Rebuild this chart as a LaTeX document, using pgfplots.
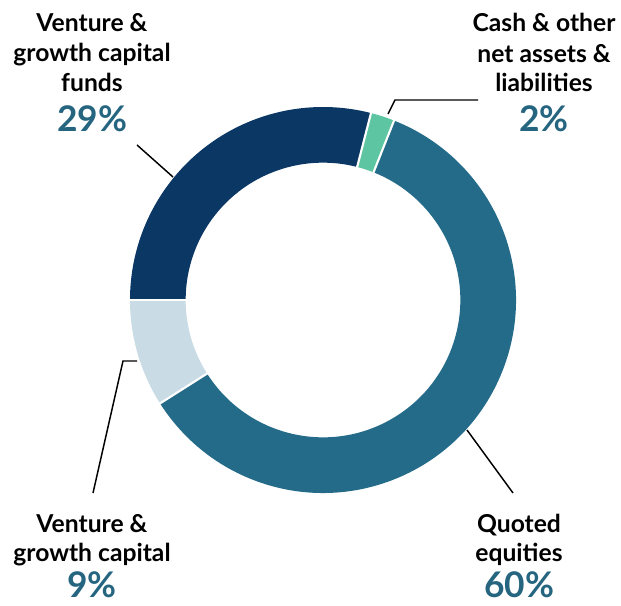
\documentclass[border=0pt]{standalone}
\usepackage{pgfplots}
\pgfplotsset{compat=1.18}
\usepackage{fontspec}
\setmainfont{Lato}
\usetikzlibrary{calc}
\definecolor{cNavy}{HTML}{0B3765}
\definecolor{cTeal}{HTML}{246B89}
\definecolor{cLight}{HTML}{C9DCE6}
\definecolor{cGreen}{HTML}{5DC5A1}
\definecolor{cPct}{HTML}{256580}
% data (percent)
\def\vA{29}% Venture & growth capital funds
\def\vB{2}%  Cash & other net assets & liabilities
\def\vC{60}% Quoted equities
\def\vD{9}%  Venture & growth capital
\pgfmathsetmacro{\aA}{180}
\pgfmathsetmacro{\aB}{\aA-3.6*\vA}
\pgfmathsetmacro{\aC}{\aB-3.6*\vB}
\pgfmathsetmacro{\aD}{\aC-3.6*\vC}
\pgfmathsetmacro{\aE}{\aD-3.6*\vD}
\def\Ro{144.75pt}
\def\Ri{103pt}
\newcommand{\seg}[3]{\fill[#3] ($(C)+(#1:\Ro)$) arc[start angle=#1, end angle=#2, radius=\Ro] -- ($(C)+(#2:\Ri)$) arc[start angle=#2, end angle=#1, radius=\Ri] -- cycle;}
\newcommand{\sep}[1]{\draw[white, line width=1.6pt] ($(C)+(#1:96pt)$) -- ($(C)+(#1:150pt)$);}
\tikzset{lab/.style={anchor=base, font=\fontsize{18.5}{22}\selectfont\bfseries, text=black, inner sep=0pt},
  pct/.style={anchor=base, font=\fontsize{26.5}{30}\selectfont\bfseries, text=cPct, inner sep=0pt}}
\begin{document}
\begin{tikzpicture}
\begin{axis}[x=0.75pt, y=0.75pt, xmin=0, xmax=621, ymin=0, ymax=606, hide axis, clip=false]
\path (axis cs:0,0) rectangle (axis cs:621,606);
\coordinate (C) at (axis cs:323,306);
\seg{\aA}{\aB}{cNavy}
\seg{\aB}{\aC}{cGreen}
\seg{\aC}{\aD}{cTeal}
\seg{\aD}{\aE}{cLight}
\sep{\aA}\sep{\aB}\sep{\aC}\sep{\aD}
% leader lines
\draw[black, line width=1.1pt] (axis cs:137,461) -- (axis cs:173,429);
\draw[black, line width=1.1pt] (axis cs:388,492) -- (axis cs:395,506) -- (axis cs:478,506);
\draw[black, line width=1.1pt] (axis cs:137,245) -- (axis cs:123,245) -- (axis cs:93,113);
\draw[black, line width=1.1pt] (axis cs:467,176) -- (axis cs:513,113);
% labels
\node[lab] at (axis cs:92,574) {Venture \&};
\node[lab] at (axis cs:92,544) {growth capital};
\node[lab] at (axis cs:92,514) {funds};
\node[pct] at (axis cs:92,474) {29\%};
\node[lab] at (axis cs:544,574) {Cash \& other};
\node[lab] at (axis cs:544,543) {net assets \&};
\node[lab] at (axis cs:544,514) {liabilities};
\node[pct] at (axis cs:544,474) {2\%};
\node[lab] at (axis cs:92,73) {Venture \&};
\node[lab] at (axis cs:92,44) {growth capital};
\node[pct] at (axis cs:92,8) {9\%};
\node[lab] at (axis cs:519,73) {Quoted};
\node[lab] at (axis cs:519,44) {equities};
\node[pct] at (axis cs:519,8) {60\%};
\end{axis}
\end{tikzpicture}
\end{document}
